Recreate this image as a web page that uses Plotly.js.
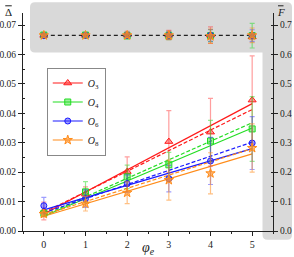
<!DOCTYPE html>
<html>
<head>
<meta charset="utf-8">
<script src="https://cdn.plot.ly/plotly-3.0.1.min.js"></script>
<style>html,body{margin:0;padding:0;background:#fff}#chart{width:294px;height:257px}</style>
</head>
<body>
<div id="chart"></div>
<script>
// ---- data ----
const phi = [0, 1, 2, 3, 4, 5];
const seriesNames = ['O3', 'O4', 'O6', 'O8'];
const labels = ['<i>O</i><sub>3</sub>', '<i>O</i><sub>4</sub>', '<i>O</i><sub>6</sub>', '<i>O</i><sub>8</sub>'];

// mean Delta (left axis)
const deltaO3 = [0.0068, 0.0125, 0.0202, 0.0304, 0.0336, 0.0445];
const deltaO4 = [0.0060, 0.0133, 0.0184, 0.0225, 0.0306, 0.0347];
const deltaO6 = [0.0086, 0.0110, 0.0161, 0.0178, 0.0238, 0.0299];
const deltaO8 = [0.0058, 0.0093, 0.0130, 0.0173, 0.0196, 0.0282];
const errDeltaO3 = [0.0030, 0.0025, 0.0050, 0.0105, 0.0115, 0.0150];
const errDeltaO4 = [0.0010, 0.0035, 0.0040, 0.0042, 0.0070, 0.0110];
const errDeltaO6 = [0.0028, 0.0030, 0.0030, 0.0045, 0.0080, 0.0090];
const errDeltaO8 = [0.0010, 0.0025, 0.0037, 0.0068, 0.0070, 0.0082];

// fitted lines, values at phi = 0 and phi = 5
const fitPhi = [0, 5];
const fitSolidO3 = [0.0058, 0.0433];
const fitSolidO4 = [0.0050, 0.0350];
const fitSolidO6 = [0.0072, 0.0280];
const fitSolidO8 = [0.0050, 0.0262];
const fitDashO3 = [0.0063, 0.0413];
const fitDashO4 = [0.0053, 0.0368];
const fitDashO6 = [0.0062, 0.0302];
const fitDashO8 = [0.0055, 0.0280];

// mean F (right axis)
const fO3 = [0.665, 0.665, 0.667, 0.666, 0.666, 0.660];
const fO4 = [0.666, 0.666, 0.664, 0.664, 0.664, 0.664];
const fO6 = [0.664, 0.665, 0.665, 0.665, 0.665, 0.664];
const fO8 = [0.665, 0.665, 0.665, 0.665, 0.662, 0.665];
const errFO3 = [0.003, 0.004, 0.012, 0.016, 0.028, 0.010];
const errFO4 = [0.003, 0.004, 0.012, 0.014, 0.020, 0.042];
const errFO6 = [0.003, 0.004, 0.010, 0.014, 0.020, 0.020];
const errFO8 = [0.002, 0.003, 0.009, 0.014, 0.024, 0.025];
const fLine = [0.665, 0.665];

const xTicks = [0, 1, 2, 3, 4, 5];
const xTickText = ['0', '1', '2', '3', '4', '5'];

// ---- styles ----
const colors = ['#ff1a1a', '#22dd22', '#1a1aff', '#ff8c1a'];
const faded = ['rgba(255,40,40,0.45)', 'rgba(40,220,40,0.5)', 'rgba(40,40,255,0.45)', 'rgba(255,140,30,0.55)'];
const fills = ['rgba(255,40,40,0.45)', 'rgba(40,220,40,0.45)', 'rgba(40,40,255,0.45)', 'rgba(255,140,30,0.6)'];
const symbols = ['triangle-up', 'square', 'circle', 'star'];
const sizes = [7, 6, 6, 7];

const deltas = [deltaO3, deltaO4, deltaO6, deltaO8];
const errD = [errDeltaO3, errDeltaO4, errDeltaO6, errDeltaO8];
const solids = [fitSolidO3, fitSolidO4, fitSolidO6, fitSolidO8];
const dashes = [fitDashO3, fitDashO4, fitDashO6, fitDashO8];
const fs = [fO3, fO4, fO6, fO8];
const errF = [errFO3, errFO4, errFO6, errFO8];

const traces = [];
// top black dashed line (F)
traces.push({x: fitPhi, y: fLine, yaxis: 'y2', mode: 'lines', showlegend: false, hoverinfo: 'skip',
  line: {color: '#222', width: 1.2, dash: '4px,3px'}});

for (let i = 0; i < 4; i++) {
  traces.push({x: fitPhi, y: solids[i], mode: 'lines', showlegend: false,
    line: {color: colors[i], width: 1.2}});
  traces.push({x: fitPhi, y: dashes[i], mode: 'lines', showlegend: false,
    line: {color: colors[i], width: 1.2, dash: '4px,2px'}});
}
for (let i = 0; i < 4; i++) {
  traces.push({x: phi, y: deltas[i], mode: 'markers', showlegend: false,
    marker: {symbol: symbols[i], size: sizes[i], color: fills[i], line: {color: colors[i], width: 1}},
    error_y: {type: 'data', array: errD[i], visible: true, color: faded[i], thickness: 1.2, width: 2.5}});
}
for (let i = 0; i < 4; i++) {
  traces.push({x: phi, y: fs[i], yaxis: 'y2', mode: 'markers', showlegend: false,
    marker: {symbol: symbols[i], size: sizes[i], color: fills[i], line: {color: colors[i], width: 1}},
    error_y: {type: 'data', array: errF[i], visible: true, color: faded[i], thickness: 1.2, width: 2.5}});
}
// legend entries
for (let i = 0; i < 4; i++) {
  traces.push({x: [null], y: [null], mode: 'lines+markers', name: labels[i],
    line: {color: colors[i], width: 1.2},
    marker: {symbol: symbols[i], size: sizes[i], color: fills[i], line: {color: colors[i], width: 1}}});
}

// gray L-shaped background (paper coordinates)
const x0 = 0.028, x1 = 1.076, xm = 0.958, yt = 1.049, yb = -0.040, ym = 0.819, rx = 0.02, ry = 0.023;
const bgPath = `M ${x0+rx} ${yt} L ${x1-rx} ${yt} Q ${x1} ${yt} ${x1} ${yt-ry} L ${x1} ${yb+ry} Q ${x1} ${yb} ${x1-rx} ${yb} ` +
  `L ${xm+rx} ${yb} Q ${xm} ${yb} ${xm} ${yb+ry} L ${xm} ${ym} L ${x0+rx} ${ym} Q ${x0} ${ym} ${x0} ${ym+ry} ` +
  `L ${x0} ${yt-ry} Q ${x0} ${yt} ${x0+rx} ${yt} Z`;

const serif = 'Liberation Serif, Times New Roman, serif';
const layout = {
  width: 294, height: 257,
  margin: {l: 23, r: 21, t: 13, b: 26, pad: 0},
  paper_bgcolor: '#ffffff',
  plot_bgcolor: 'rgba(0,0,0,0)',
  font: {family: serif, size: 10, color: '#222'},
  showlegend: true,
  legend: {x: 0.095, y: 0.75, xanchor: 'left', yanchor: 'top', bgcolor: '#ffffff',
    bordercolor: '#888', borderwidth: 1, font: {family: serif, size: 10, color: '#222'},
    tracegroupgap: 0, itemwidth: 30},
  xaxis: {range: [-0.5, 5.5], tickvals: xTicks, ticktext: xTickText, showgrid: false, zeroline: false,
    showline: true, linecolor: '#222', linewidth: 1, ticks: 'outside', ticklen: 4, tickcolor: '#222',
    minor: {dtick: 0.5, ticks: 'outside', ticklen: 2, tickcolor: '#222', showgrid: false},
    tickfont: {family: serif, size: 10}, fixedrange: true,
    title: {text: '<i>φ</i><sub><i>e</i></sub>', font: {family: serif, size: 14}, standoff: 2}},
  yaxis: {range: [0, 0.0741], dtick: 0.01, tickformat: '.2f', showgrid: false, zeroline: false,
    showline: true, linecolor: '#222', linewidth: 1, ticks: 'outside', ticklen: 4, tickcolor: '#222',
    minor: {dtick: 0.005, ticks: 'inside', ticklen: 2, tickcolor: '#222', showgrid: false},
    tickfont: {family: serif, size: 9.5}, fixedrange: true},
  yaxis2: {range: [0, 0.741], dtick: 0.1, tickformat: '.1f', overlaying: 'y', side: 'right', showgrid: false,
    zeroline: false, showline: true, linecolor: '#222', linewidth: 1, ticks: 'outside', ticklen: 4,
    tickcolor: '#222', minor: {dtick: 0.05, ticks: 'inside', ticklen: 2, tickcolor: '#222', showgrid: false},
    tickfont: {family: serif, size: 9.5}, fixedrange: true},
  shapes: [
    {type: 'path', xref: 'paper', yref: 'paper', path: bgPath, fillcolor: '#d9d9d9', line: {width: 0}, layer: 'below'},
    {type: 'line', xref: 'paper', yref: 'paper', x0: -0.071, x1: -0.045, y0: 1.033, y1: 1.033, line: {color: '#222', width: 1}},
    {type: 'line', xref: 'paper', yref: 'paper', x0: 1.020, x1: 1.042, y0: 1.033, y1: 1.033, line: {color: '#222', width: 1}}
  ],
  annotations: [
    {xref: 'paper', yref: 'paper', x: -0.058, y: 1.005, text: 'Δ', showarrow: false, xanchor: 'center', yanchor: 'middle',
      font: {family: serif, size: 11, color: '#222'}},
    {xref: 'paper', yref: 'paper', x: 1.030, y: 1.005, text: '<i>F</i>', showarrow: false, xanchor: 'center', yanchor: 'middle',
      font: {family: serif, size: 11, color: '#222'}}
  ]
};

Plotly.newPlot('chart', traces, layout, {displayModeBar: false, staticPlot: true});
</script>
</body>
</html>
